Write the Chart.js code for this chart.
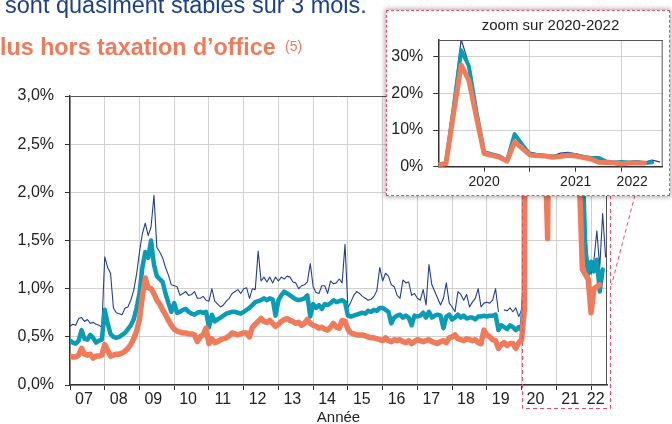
<!DOCTYPE html>
<html lang="fr">
<head>
<meta charset="UTF-8">
<title>Taux mensuel 2007-2022 - zoom sur 2020-2022</title>
<script src="https://cdn.jsdelivr.net/npm/chart.js"></script>
<style>
    body {
        margin: 0;
        background: #ffffff;
        font-family: "Liberation Sans", Arial, Helvetica, sans-serif;
    }
    #page {
        position: relative;
        width: 672px;
        height: 424px;
        overflow: hidden;
        background: #ffffff;
    }
    #mainChart { position: absolute; left: 0; top: 0; }
    .intro {
        position: absolute;
        left: 5px;
        top: -8px;
        font-size: 23.5px;
        color: #1d3f8b;
        white-space: nowrap;
    }
    .subtitle {
        position: absolute;
        left: 0;
        top: 34px;
        font-size: 23.3px;
        font-weight: bold;
        color: #ef7b5b;
        white-space: nowrap;
    }
    .note {
        position: absolute;
        left: 285px;
        top: 38px;
        font-size: 14px;
        color: #ef7b5b;
        white-space: nowrap;
    }
    .inset {
        position: absolute;
        left: 386px;
        top: 10px;
        width: 284px;
        height: 186px;
        box-sizing: border-box;
        border: 1px dashed #e94e68;
        background: #ffffff;
        box-shadow: 0 0 5px 1px rgba(0, 0, 0, 0.35);
    }
    .inset canvas { display: block; }
</style>
</head>
<body>
<div id="page">
    <canvas id="mainChart" width="672" height="424"></canvas>
    <div class="intro">sont quasiment stables sur 3 mois.</div>
    <div class="subtitle">lus hors taxation d’office</div>
    <div class="note">(5)</div>
    <div class="inset">
        <canvas id="zoomChart" width="282" height="184"></canvas>
    </div>
</div>

<script>
    // Monthly values in %, one line per year, Jan 2007 -> Jun 2022
    const orange = [
        0.30, 0.29, 0.29, 0.31, 0.38, 0.32, 0.31, 0.32, 0.28, 0.30, 0.30, 0.31,
        0.42, 0.36, 0.30, 0.31, 0.32, 0.32, 0.33, 0.35, 0.38, 0.42, 0.48, 0.56,
        0.68, 0.92, 1.11, 1.01, 1.00, 0.95, 0.88, 0.84, 0.78, 0.73, 0.67, 0.62,
        0.58, 0.56, 0.55, 0.54, 0.54, 0.53, 0.53, 0.52, 0.45, 0.50, 0.52, 0.59,
        0.43, 0.48, 0.44, 0.45, 0.47, 0.48, 0.49, 0.51, 0.54, 0.53, 0.52, 0.53,
        0.54, 0.54, 0.50, 0.60, 0.63, 0.66, 0.69, 0.66, 0.65, 0.67, 0.64, 0.61,
        0.63, 0.66, 0.68, 0.69, 0.67, 0.66, 0.64, 0.65, 0.62, 0.64, 0.68, 0.64,
        0.62, 0.61, 0.59, 0.60, 0.58, 0.57, 0.60, 0.64, 0.60, 0.59, 0.67, 0.66,
        0.58, 0.54, 0.53, 0.52, 0.52, 0.52, 0.51, 0.50, 0.49, 0.49, 0.48, 0.47,
        0.46, 0.49, 0.46, 0.45, 0.47, 0.46, 0.47, 0.45, 0.44, 0.46, 0.43, 0.45,
        0.47, 0.46, 0.45, 0.46, 0.47, 0.45, 0.44, 0.43, 0.45, 0.46, 0.44, 0.49,
        0.50, 0.52, 0.48, 0.47, 0.46, 0.48, 0.47, 0.46, 0.47, 0.44, 0.43, 0.57,
        0.52, 0.50, 0.47, 0.46, 0.38, 0.42, 0.44, 0.41, 0.43, 0.43, 0.38, 0.44,
        0.47, 0.80, 14.5, 27.8, 23.6, 13.5, 3.6, 3.1, 2.6, 1.52, 6.8, 5.0,
        3.2, 3.0, 2.9, 2.6, 2.8, 3.1, 2.9, 2.5, 2.1, 1.2, 1.15, 1.1,
        0.75, 1.00, 1.02, 1.04
    ];
    const teal = [
        0.46, 0.44, 0.43, 0.46, 0.57, 0.48, 0.47, 0.52, 0.49, 0.44, 0.46, 0.47,
        0.78, 0.64, 0.53, 0.50, 0.49, 0.50, 0.52, 0.54, 0.58, 0.62, 0.68, 0.80,
        0.95, 1.22, 1.38, 1.32, 1.50, 1.25, 1.13, 1.10, 1.07, 0.95, 0.85, 0.76,
        0.85, 0.75, 0.76, 0.78, 0.79, 0.76, 0.74, 0.73, 0.75, 0.76, 0.75, 0.76,
        0.60, 0.73, 0.66, 0.68, 0.70, 0.72, 0.74, 0.75, 0.76, 0.76, 0.75, 0.74,
        0.76, 0.78, 0.80, 0.83, 0.86, 0.87, 0.88, 0.90, 0.88, 0.90, 0.89, 0.72,
        0.88, 0.93, 0.97, 0.95, 0.93, 0.91, 0.89, 0.88, 0.89, 0.90, 0.93, 0.71,
        0.84, 0.80, 0.83, 0.79, 0.84, 0.83, 0.85, 0.88, 0.86, 0.87, 0.88, 0.86,
        0.72, 0.71, 0.72, 0.73, 0.74, 0.75, 0.74, 0.77, 0.76, 0.78, 0.77, 0.80,
        0.80, 0.78, 0.76, 0.64, 0.70, 0.72, 0.73, 0.70, 0.72, 0.70, 0.62, 0.72,
        0.71, 0.72, 0.75, 0.70, 0.76, 0.70, 0.72, 0.73, 0.72, 0.59, 0.71, 0.73,
        0.68, 0.70, 0.73, 0.70, 0.72, 0.69, 0.70, 0.70, 0.68, 0.71, 0.71, 0.72,
        0.71, 0.72, 0.72, 0.73, 0.57, 0.62, 0.60, 0.58, 0.62, 0.60, 0.57, 0.60,
        0.57, 1.00, 16.0, 31.8, 27.5, 15.0, 4.0, 3.4, 2.9, 1.58, 8.9, 6.0,
        3.4, 3.2, 3.0, 2.8, 3.0, 3.3, 3.2, 2.7, 2.4, 2.4, 1.42, 1.15,
        1.28, 1.18, 1.30, 0.97, 1.20
    ];
    const blue = [
        0.61, 0.63, 0.62, 0.69, 0.70, 0.66, 0.68, 0.64, 0.65, 0.63, 0.62, 0.60,
        1.33, 1.22, 1.16, 0.80, 0.75, 0.74, 0.73, 0.80, 0.81, 0.88, 0.98, 1.15,
        1.38, 1.57, 1.68, 1.55, 1.64, 1.97, 1.43, 1.38, 1.32, 1.22, 1.14, 1.04,
        1.03, 1.02, 0.93, 0.95, 0.97, 0.93, 0.94, 0.97, 0.90, 0.90, 0.92, 0.88,
        0.87, 1.00, 0.87, 0.84, 0.81, 0.83, 0.87, 0.90, 0.95, 0.97, 0.99, 0.95,
        1.00, 1.01, 0.90, 1.00, 0.99, 1.39, 1.08, 1.12, 1.07, 1.12, 1.06, 1.12,
        1.08, 1.12, 1.10, 1.13, 1.12, 1.07, 1.06, 1.00, 1.03, 1.04, 1.07, 1.26,
        1.02, 0.96, 0.95, 1.03, 1.03, 0.95, 1.08, 1.05, 1.06, 1.10, 1.06, 1.46,
        0.80, 0.86, 0.93, 0.97, 0.95, 0.92, 0.90, 0.88, 0.89, 0.92, 0.98, 1.22,
        1.08, 1.16, 1.13, 1.04, 1.02, 0.93, 0.90, 1.09, 1.06, 1.07, 0.93, 0.95,
        0.90, 0.88, 0.99, 0.83, 1.25, 1.04, 0.97, 0.90, 0.83, 0.90, 1.06, 0.85,
        0.81, 0.76, 0.97, 0.94, 0.88, 0.94, 0.81, 0.86, 0.90, 1.00, 0.81, 0.85,
        0.86, 0.85, 0.88, 1.00, 0.76, null, 0.78, 0.77, 0.80, 0.76, 0.80, 0.71,
        0.78, 1.20, 18.0, 34.7, 28.0, 15.0, 4.2, 3.5, 3.0, 1.62, 8.8, 6.0,
        4.0, 3.5, 3.3, 3.0, 3.7, 3.9, 3.5, 2.9, 2.2, 1.75, 1.65, 1.25,
        1.15, 1.30, 1.60, 1.22, 1.78, 1.33
    ];

    // axis labels
    const yearLabels = ['07', '08', '09', '10', '11', '12', '13', '14', '15', '16', '17', '18', '19', '20', '21', '22'];
    const zoomYears = ['2020', '2021', '2022'];
    const zoomStart = 156;      // Jan 2020, first month of the inset
    const lastMonth = 185.5;    // right edge of the main chart

    const ORANGE = '#ef7b5b';
    const TEAL = '#0a9cb4';
    const NAVY = '#23408e';
    const DASH = '#e94e68';
    const GRID = '#d0d0d0';
    const AXIS = '#333333';

    Chart.defaults.font.family = '"Liberation Sans", Arial, Helvetica, sans-serif';
    Chart.defaults.color = '#222';

    function toPoints(vals) {
        return vals.map((v, i) => ({ x: i, y: v }));
    }

    function lineSets(offset, widths) {
        return [
            { label: 'hors taxation d’office', data: toPoints(orange.slice(offset)), borderColor: ORANGE, borderWidth: widths[0] },
            { label: 'ensemble', data: toPoints(teal.slice(offset)), borderColor: TEAL, borderWidth: widths[1] },
            { label: 'brut', data: toPoints(blue.slice(offset)), borderColor: NAVY, borderWidth: widths[2] }
        ].map(d => Object.assign(d, {
            pointRadius: 0, tension: 0, spanGaps: false,
            borderJoinStyle: 'round', borderCapStyle: 'round'
        }));
    }

    // year labels sit a bit left of the middle of each year
    const labelPos = yearLabels.map((_, k) => k < 15 ? 4.8 + 12 * k : 181.6);
    const yearStarts = yearLabels.map((_, k) => 12 * k);

    function boxBorder(chart) {
        const { ctx, chartArea: a } = chart;
        ctx.save();
        ctx.strokeStyle = '#555';
        ctx.lineWidth = 1;
        ctx.beginPath();
        ctx.moveTo(a.right - 0.5, a.top);
        ctx.lineTo(a.right - 0.5, a.bottom);
        ctx.stroke();
        ctx.restore();
    }

    const mainDecor = {
        id: 'mainDecor',
        afterDraw(chart) {
            boxBorder(chart);
            const { ctx, chartArea: a, scales } = chart;
            const x0 = Math.round(scales.x.getPixelForValue(zoomStart)) + 0.5;
            const x1 = Math.round(a.right) + 3.5;
            const yTop = 195, yBot = 408.5;
            ctx.save();
            ctx.strokeStyle = DASH;
            ctx.lineWidth = 1;
            ctx.setLineDash([4, 3]);
            ctx.beginPath();
            ctx.moveTo(x0, yTop);
            ctx.lineTo(x0, yBot);
            ctx.lineTo(x1, yBot);
            ctx.lineTo(x1, yTop);
            ctx.moveTo(635, yTop);
            ctx.lineTo(x1 + 1, 285);
            ctx.stroke();
            ctx.restore();
        }
    };

    new Chart(document.getElementById('mainChart'), {
        type: 'line',
        data: { datasets: lineSets(0, [5.5, 4.5, 1.1]) },
        options: {
            responsive: false,
            animation: false,
            devicePixelRatio: 1,
            layout: { padding: { top: 96, right: 65, bottom: 0, left: 0 } },
            plugins: { legend: { display: false }, tooltip: { enabled: false } },
            scales: {
                x: {
                    type: 'linear',
                    min: 0,
                    max: lastMonth,
                    afterBuildTicks: s => {
                        s.ticks = yearStarts.concat(labelPos).sort((a, b) => a - b).map(v => ({ value: v }));
                    },
                    afterFit: s => { s.height = 39; },
                    ticks: {
                        autoSkip: false,
                        maxRotation: 0,
                        minRotation: 0,
                        padding: 0,
                        font: { size: 16 },
                        callback: v => {
                            const k = labelPos.indexOf(v);
                            return k >= 0 ? yearLabels[k] : '';
                        }
                    },
                    grid: {
                        color: c => yearStarts.includes(c.tick.value) ? GRID : 'rgba(0,0,0,0)',
                        tickColor: c => yearStarts.includes(c.tick.value) ? AXIS : 'rgba(0,0,0,0)',
                        tickLength: 5
                    },
                    border: { color: AXIS, width: 1.5 },
                    title: { display: true, text: 'Année', font: { size: 15 }, padding: { top: 0, bottom: -3 } }
                },
                y: {
                    min: 0,
                    max: 3,
                    afterFit: s => { s.width = 70; },
                    ticks: {
                        stepSize: 0.5,
                        padding: 11,
                        font: { size: 16 },
                        callback: v => v.toFixed(1).replace('.', ',') + '%'
                    },
                    grid: {
                        color: c => c.tick.value === 3 ? '#555' : GRID,
                        tickColor: AXIS,
                        tickLength: 5
                    },
                    border: { color: AXIS, width: 1.5 }
                }
            }
        },
        plugins: [mainDecor]
    });

    // inset: same series from January 2020
    const zoomLabelPos = [6, 18, 25.4];
    const zoomGrid = [12, 24];

    new Chart(document.getElementById('zoomChart'), {
        type: 'line',
        data: { datasets: lineSets(zoomStart, [5, 4, 1.2]) },
        options: {
            responsive: false,
            animation: false,
            devicePixelRatio: 1,
            layout: { padding: { top: 0, right: 6.3, bottom: 0, left: 0 } },
            plugins: {
                legend: { display: false },
                tooltip: { enabled: false },
                title: {
                    display: true,
                    text: 'zoom sur 2020-2022',
                    fullSize: false,
                    color: '#222',
                    font: { size: 15, weight: 'normal' },
                    padding: { top: 6, bottom: 5 }
                }
            },
            scales: {
                x: {
                    type: 'linear',
                    min: 0,
                    max: 29.4,
                    afterBuildTicks: s => {
                        s.ticks = [6, 12, 18, 24, 25.4].map(v => ({ value: v }));
                    },
                    afterFit: s => { s.height = 28.3; },
                    ticks: {
                        autoSkip: false,
                        maxRotation: 0,
                        padding: 2,
                        font: { size: 14 },
                        callback: v => {
                            const k = zoomLabelPos.indexOf(v);
                            return k >= 0 ? zoomYears[k] : '';
                        }
                    },
                    grid: {
                        color: c => zoomGrid.includes(c.tick.value) ? GRID : 'rgba(0,0,0,0)',
                        tickColor: c => c.tick.value === 25.4 ? 'rgba(0,0,0,0)' : AXIS,
                        tickLength: 5
                    },
                    border: { color: AXIS, width: 1.5 }
                },
                y: {
                    min: 0,
                    max: 34.6,
                    afterBuildTicks: s => {
                        s.ticks = [0, 10, 20, 30].map(v => ({ value: v }));
                    },
                    afterFit: s => { s.width = 51.3; },
                    ticks: {
                        padding: 10,
                        font: { size: 16 },
                        callback: v => v + '%'
                    },
                    grid: { color: GRID, tickColor: AXIS, tickLength: 5 },
                    border: { color: AXIS, width: 1.5 }
                }
            }
        },
        plugins: [{
            id: 'zoomFrame',
            afterDraw(chart) {
                boxBorder(chart);
                const { ctx, chartArea: a } = chart;
                ctx.save();
                ctx.strokeStyle = '#555';
                ctx.lineWidth = 1;
                ctx.beginPath();
                ctx.moveTo(a.left, a.top + 0.5);
                ctx.lineTo(a.right, a.top + 0.5);
                ctx.stroke();
                ctx.restore();
            }
        }]
    });
</script>
</body>
</html>
